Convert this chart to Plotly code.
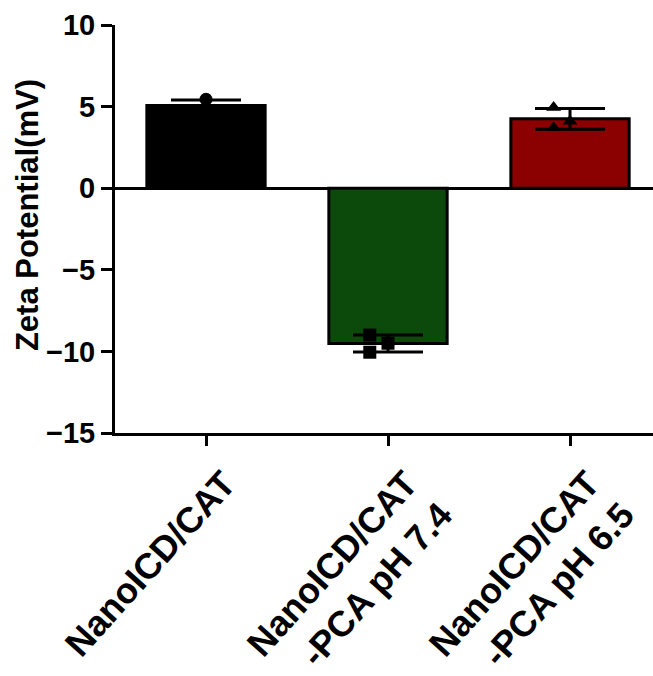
import numpy as np
import plotly.graph_objects as go

# Zeta potential replicates (mV) for each formulation
groups = ["NanoICD/CAT", "NanoICD/CAT<br>-PCA pH 7.4", "NanoICD/CAT<br>-PCA pH 6.5"]
rep_nano = [5.45, 4.90, 4.85]
rep_ph74 = [-9.00, -9.50, -10.05]
rep_ph65 = [4.95, 4.10, 3.70]
replicates = [rep_nano, rep_ph74, rep_ph65]
jitter = [[0.0, 0.0, 0.0], [-0.1, 0.0, -0.1], [-0.09, 0.0, -0.09]]
bar_colors = ["#000000", "#0b4a0b", "#8b0000"]
symbols = ["circle", "square", "triangle-up"]
y_ticks = [10, 5, 0, -5, -10, -15]
y_title = "Zeta Potential(mV)"

means = [float(np.mean(r)) for r in replicates]
sds = [float(np.std(r, ddof=1)) for r in replicates]
xpos = list(range(len(groups)))

font_family = "Liberation Sans, Arial, sans-serif"

fig = go.Figure()
fig.add_trace(go.Bar(
    x=xpos, y=means, width=0.65,
    marker=dict(color=bar_colors, line=dict(color="black", width=3)),
    error_y=dict(type="data", array=sds, visible=True,
                 color="black", thickness=3, width=35),
    showlegend=False,
))
for i, reps in enumerate(replicates):
    fig.add_trace(go.Scatter(
        x=[xpos[i] + d for d in jitter[i]], y=reps, mode="markers",
        marker=dict(symbol=symbols[i], color="black", size=13,
                    line=dict(width=0)),
        showlegend=False,
    ))

fig.update_layout(
    width=653, height=676,
    margin=dict(l=115, r=0, t=25, b=243),
    plot_bgcolor="white", paper_bgcolor="white",
    font=dict(family=font_family, color="black", size=24, weight="bold"),
)
fig.update_xaxes(
    range=[-0.5, 2.456], tickvals=xpos, ticktext=groups, tickangle=-48,
    showline=True, linecolor="black", linewidth=3,
    ticks="outside", ticklen=10, tickwidth=3, tickcolor="black",
    showgrid=False, zeroline=False, automargin=False,
    tickfont=dict(size=36, weight="bold"),
    ticklabelshift=18, ticklabelstandoff=2,
)
fig.update_yaxes(
    range=[-15, 10], tickvals=y_ticks,
    showline=True, linecolor="black", linewidth=3,
    ticks="outside", ticklen=11, tickwidth=3, tickcolor="black",
    showgrid=False, zeroline=True, zerolinecolor="black", zerolinewidth=3,
    automargin=False,
    tickfont=dict(size=29, weight="bold"),
)

# Vertical axis title, placed as rotated text beside the tick labels
fig.add_annotation(
    text=y_title, textangle=-90, showarrow=False,
    xref="paper", yref="paper", x=-0.1636, y=0.534,
    xanchor="center", yanchor="middle",
    font=dict(size=31, weight="bold"),
)

fig.write_html("out.html")
